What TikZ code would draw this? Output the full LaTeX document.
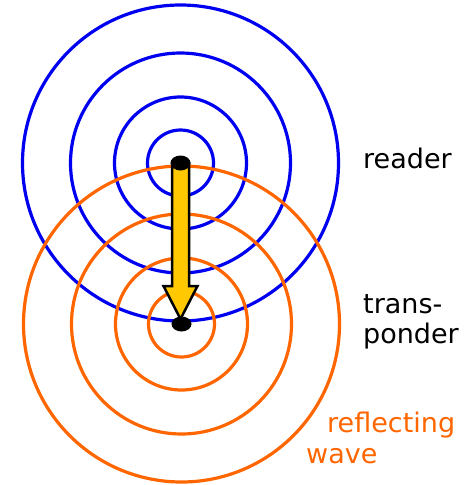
\documentclass[tikz,border=0pt]{standalone}
\usepackage{fontspec}
\setmainfont{DejaVu Sans}
\usetikzlibrary{calc,shapes.geometric}

\definecolor{waveorange}{RGB}{255,102,0}
\definecolor{waveblue}{RGB}{0,0,240}
\definecolor{arrowyellow}{RGB}{255,200,0}

\tikzset{
  ring/.style={line width=3.2pt},
  dot/.style={ellipse, fill=black, minimum width=20pt, minimum height=15pt, inner sep=0pt},
  txt/.style={anchor=base west, inner sep=0pt, font=\fontsize{27}{30}\selectfont},
  bigarrow/.style={draw=black, line width=2.5pt, fill=arrowyellow, line join=miter}
}

\begin{document}
\begin{tikzpicture}[x=1pt, y=-1pt]
\useasboundingbox (0,0) rectangle (468,485);

\coordinate (rd) at (180.5,163);
\coordinate (tp) at (181.5,324);

\foreach \r in {33,66,110,158}
  \draw[ring, waveblue] (rd) circle[radius=\r];
\foreach \r in {33,66,110,158}
  \draw[ring, waveorange] (tp) circle[radius=\r];

\draw[bigarrow] ($(rd)+(-8.5,0)$) -- ($(rd)+(8.5,0)$) -- ($(rd|-tp)+(8.5,-38)$)
  -- ($(rd|-tp)+(17,-38)$) -- ($(rd|-tp)+(0,-5)$) -- ($(rd|-tp)+(-17,-38)$)
  -- ($(rd|-tp)+(-8.5,-38)$) -- cycle;

\node[dot] (reader) at (rd) {};
\node[dot] (transponder) at (tp) {};

\node[txt] (readertxt) at (363,168) {reader};
\node[txt] (trans) at (363,313) {trans-};
\node[txt] (ponder) at (363,343) {ponder};
\node[txt, waveorange] (reflecting) at (327,432) {reflecting};
\node[txt, waveorange] (wave) at (306,463) {wave};

\end{tikzpicture}
\end{document}
